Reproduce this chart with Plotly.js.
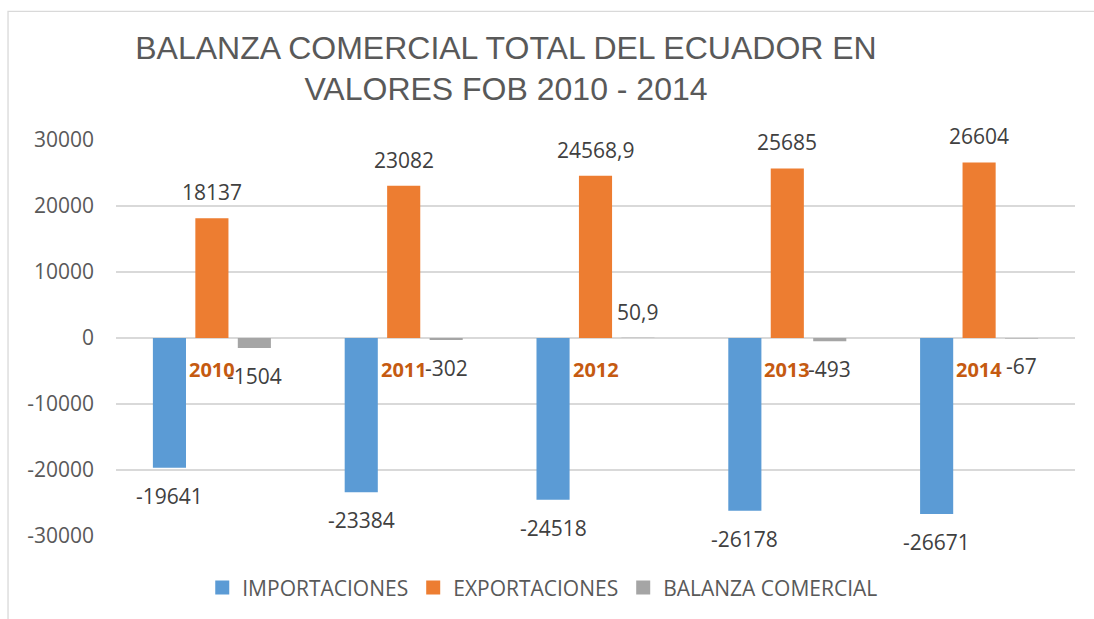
<!DOCTYPE html>
<html>
<head>
<meta charset="utf-8">
<script src="https://cdn.plot.ly/plotly-3.0.1.min.js"></script>
<style>
  html, body { margin: 0; padding: 0; background: #ffffff; }
  #chart { width: 1094px; height: 619px; }
</style>
</head>
<body>
<div id="chart"></div>
<script>
// ---- Data ----
const categories = ['2010', '2011', '2012', '2013', '2014'];
const importaciones = [-19641, -23384, -24518, -26178, -26671];
const exportaciones = [18137, 23082, 24568.9, 25685, 26604];
const balanzaComercial = [-1504, -302, 50.9, -493, -67];
const seriesNames = ['IMPORTACIONES', 'EXPORTACIONES', 'BALANZA COMERCIAL'];
const yTickVals = [-30000, -20000, -10000, 0, 10000, 20000, 30000];
const yTickText = ['-30000', '-20000', '-10000', '0', '10000', '20000', '30000'];
const chartTitleLines = ['BALANZA COMERCIAL TOTAL DEL ECUADOR EN', 'VALORES FOB 2010 - 2014'];

// ---- Styling ----
const colors = ['#5B9BD5', '#ED7D31', '#A5A5A5'];
const BODY_FONT = '"Open Sans", "Liberation Sans", sans-serif';
const bargap = 0.336;
const bargroupgap = 0.22;

const seriesValues = [importaciones, exportaciones, balanzaComercial];
const fmt = v => String(v).replace('.', ',');

const barTraces = seriesValues.map((vals, i) => ({
  type: 'bar',
  name: seriesNames[i],
  legendgroup: 'g' + i,
  showlegend: false,
  x: categories,
  y: vals,
  marker: { color: colors[i], line: { width: 0 } },
  hoverinfo: 'skip'
}));

// Legend entries with square swatches (no marks drawn on the plot)
const legendTraces = seriesNames.map((name, i) => ({
  type: 'scatter',
  mode: 'markers',
  name: name,
  legendgroup: 'g' + i,
  x: [null],
  y: [null],
  marker: { symbol: 'square', size: 14, color: colors[i] },
  hoverinfo: 'skip'
}));

// Data labels, placed at the bar ends through the axes' scales
const slot = (1 - bargap) / 3;
const annotations = [];
seriesValues.forEach((vals, i) => {
  vals.forEach((v, j) => {
    annotations.push({
      x: j + (i - 1) * slot,
      y: v,
      xref: 'x', yref: 'y',
      text: fmt(v),
      showarrow: false,
      yshift: v >= 0 ? 26 : -28,
      font: { family: BODY_FONT, size: 21, color: '#404040' }
    });
  });
});
// Category labels next to the zero line
categories.forEach((c, j) => {
  annotations.push({
    x: j, y: 0, xref: 'x', yref: 'y',
    text: '<b>' + c + '</b>',
    showarrow: false,
    yshift: -31,
    font: { family: BODY_FONT, size: 20, color: '#C55A11' }
  });
});

const layout = {
  width: 1094,
  height: 619,
  paper_bgcolor: '#ffffff',
  plot_bgcolor: '#ffffff',
  margin: { l: 116, r: 19, t: 140, b: 82 },
  barmode: 'group',
  bargap: bargap,
  bargroupgap: bargroupgap,
  font: { family: BODY_FONT, color: '#595959' },
  title: {
    text: chartTitleLines.join('<br>'),
    font: { family: '"Liberation Sans", Arial, sans-serif', size: 32, color: '#595959' },
    xref: 'container', yref: 'container',
    x: 0.4625, xanchor: 'center',
    y: 0.905, yanchor: 'top'
  },
  xaxis: {
    type: 'category',
    range: [-0.5, categories.length - 0.5],
    showticklabels: false,
    showgrid: false,
    showline: false,
    zeroline: false,
    ticks: ''
  },
  yaxis: {
    range: [-30000, 30000],
    tickvals: yTickVals,
    ticktext: yTickText,
    showgrid: true,
    gridcolor: '#D9D9D9',
    gridwidth: 1.3,
    zeroline: true,
    zerolinecolor: '#D9D9D9',
    zerolinewidth: 1.3,
    showline: false,
    ticks: '',
    ticklabelstandoff: 21,
    tickfont: { family: BODY_FONT, size: 21, color: '#595959' }
  },
  showlegend: true,
  legend: {
    orientation: 'h',
    x: 0.445, xanchor: 'center',
    y: -0.128, yanchor: 'middle',
    font: { family: BODY_FONT, size: 21, color: '#595959' },
    bgcolor: 'rgba(0,0,0,0)',
    itemsizing: 'trace'
  },
  annotations: annotations,
  shapes: [
    {
      type: 'rect', xref: 'paper', yref: 'paper',
      x0: -0.1126, x1: 1.2, y0: -0.5, y1: 1.325,
      line: { color: '#D9D9D9', width: 1.3 },
      fillcolor: 'rgba(0,0,0,0)',
      layer: 'below'
    }
  ]
};

Plotly.newPlot('chart', barTraces.concat(legendTraces), layout, { displayModeBar: false, staticPlot: true });
</script>
</body>
</html>
